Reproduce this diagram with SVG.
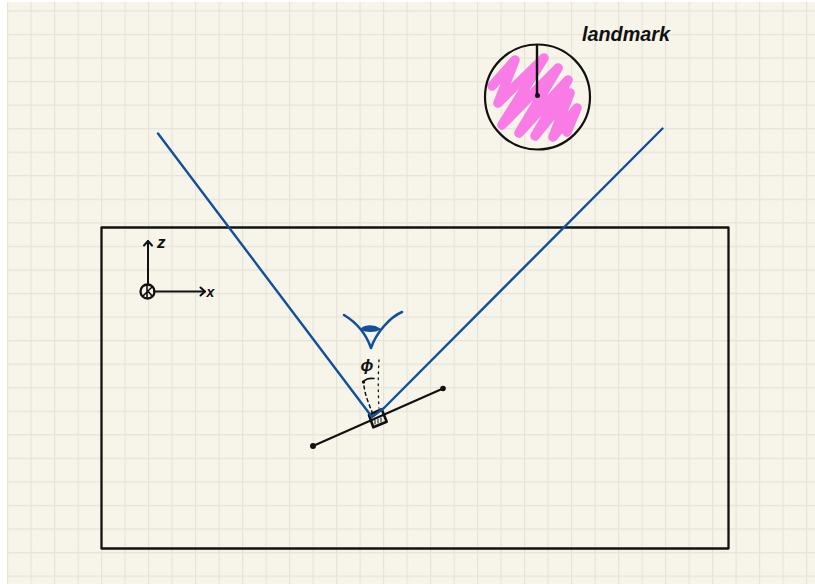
<svg xmlns="http://www.w3.org/2000/svg" width="815" height="584" viewBox="0 0 815 584">
<defs>
<pattern id="grid" x="7" y="10.3" width="23.5" height="23.55" patternUnits="userSpaceOnUse">
<rect width="23.5" height="23.55" fill="#f7f5e9"/>
<path d="M0.5 0V23.55M0 0.5H23.5" stroke="#e6e4d8" stroke-width="1.4" fill="none"/>
</pattern>
<marker id="open" markerWidth="12" markerHeight="12" refX="8" refY="6" orient="auto" markerUnits="userSpaceOnUse">
<path d="M3.500 2L8 6L3.500 10" fill="none" stroke="#111" stroke-width="2" stroke-linecap="round" stroke-linejoin="round"/>
</marker>
</defs>
<style>
.ink{fill:none;stroke:#111;stroke-linecap:round;stroke-linejoin:round}
.blue{fill:none;stroke:#11509c;stroke-linecap:round;stroke-linejoin:round}
.hand{font-family:"Liberation Sans",Arial,sans-serif;font-style:italic;fill:#111}
</style>
<rect width="815" height="584" fill="#fff"/>
<rect x="7" y="2" width="808" height="582" fill="url(#grid)"/>

<g id="landmark">
<path d="M492 86L515 60L498 103L544 58L502 125L558 68L519 133L568 80L535 136L570 93L553 137L577 108L567 132" fill="none" stroke="#f97be6" stroke-width="9.500" stroke-linecap="round" stroke-linejoin="round"/>
<circle cx="537.500" cy="97" r="52.500" class="ink" stroke-width="2.200"/>
<path d="M537 46V95.500" class="ink" stroke-width="2.400"/>
<circle cx="537.500" cy="95.500" r="2.500" fill="#111"/>
<text class="hand" x="582" y="41" font-size="21" font-weight="bold" textLength="88" lengthAdjust="spacingAndGlyphs">landmark</text>
</g>

<g id="frame">
<rect x="101.500" y="227.500" width="627" height="321" class="ink" stroke-width="2.300"/>
</g>

<g id="axes">
<circle cx="147.500" cy="291.500" r="7" class="ink" stroke-width="2.300"/>
<path d="M143 296L152 287M147 285V297M148 291L152 296" class="ink" stroke-width="1.600"/>
<text class="hand" x="157" y="248" font-size="17" font-weight="bold">z</text>
<text class="hand" x="206.500" y="297" font-size="14" font-weight="bold">x</text>
</g>

<g id="eye">
<path d="M344 315C354 321 365 331 371 348C376 333 390 317 402 312" class="blue" stroke-width="2.600"/>
<path d="M361 329C366 325 374 325 380 329C375 332 366 332 361 329Z" fill="#11509c" stroke="#11509c" stroke-width="1.500" stroke-linejoin="round"/>
</g>

<g id="camera">
<path d="M369 415L381.700 409.300L386.700 421.700L373.300 427.300Z" class="ink" stroke-width="2.600"/>
<path d="M375 424V420M378 423V419M381 422V418" class="ink" stroke-width="1"/>
<circle cx="313" cy="446" r="3" fill="#111"/>
<circle cx="443" cy="388.500" r="2.800" fill="#111"/>
</g>

<g id="angle">
<text class="hand" x="360.500" y="371" font-size="17" font-weight="bold">ϕ</text>
<path d="M364 381C366 379 370 378 374 378.500" class="ink" stroke-width="1.700"/>
<circle cx="363.500" cy="382" r="1.700" fill="#111"/>
</g>

<g id="connectors">
<path d="M158 133.500L372 417L384 408L662.500 128.500" class="blue" stroke-width="2.400"/>
<path d="M313 446L443 388.500" class="ink" stroke-width="2.200"/>
<path d="M148 284V241" class="ink" stroke-width="2" marker-end="url(#open)"/>
<path d="M154 291.500H205" class="ink" stroke-width="2" marker-end="url(#open)"/>
<path d="M379 360C378 376 378 392 379 408" class="ink" stroke-width="1.300" stroke-dasharray="1.500 4.500"/>
<path d="M364 386C365 395 369 404 372 412" class="ink" stroke-width="1.500" stroke-dasharray="3 3.500"/>
</g>
</svg>
